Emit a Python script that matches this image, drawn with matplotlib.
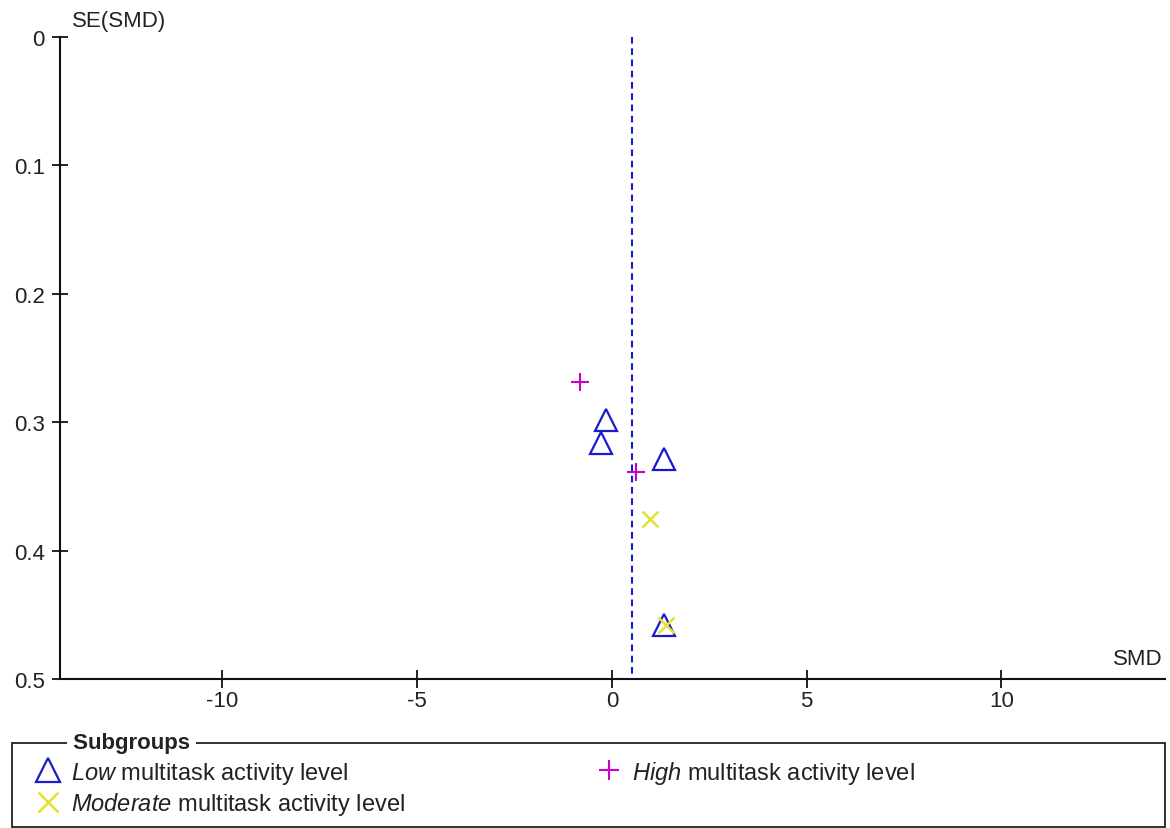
import matplotlib
matplotlib.use("Agg")
import matplotlib.pyplot as plt
from matplotlib.lines import Line2D
from matplotlib.patches import Rectangle

plt.rcParams['font.family'] = ['Liberation Sans', 'DejaVu Sans']
plt.rcParams['mathtext.fontset'] = 'custom'
plt.rcParams['mathtext.it'] = 'Liberation Sans:italic'
plt.rcParams['mathtext.rm'] = 'Liberation Sans'

# ---- data ----
low_smd = [-0.15, -0.27, 1.33, 1.33]
low_se = [0.298, 0.316, 0.329, 0.458]
moderate_smd = [0.98, 1.39]
moderate_se = [0.375, 0.458]
high_smd = [-0.82, 0.62]
high_se = [0.269, 0.339]
pooled_smd = 0.52

x_ticks = [-10, -5, 0, 5, 10]
y_ticks = [0, 0.1, 0.2, 0.3, 0.4, 0.5]
y_tick_labels = ["0", "0.1", "0.2", "0.3", "0.4", "0.5"]

BLUE = "#1a1acc"
MAGENTA = "#cc00cc"
YELLOW = "#e3e32a"
TXT = "#222222"
FS = 16

fig = plt.figure(figsize=(11.7, 8.29), dpi=100)
ax = fig.add_axes([60 / 1170, 1 - 680 / 829, 1105 / 1170, 642 / 829])

ax.plot([pooled_smd, pooled_smd], [0, 0.5], ls=(0, (3.2, 2.2)), color=BLUE, lw=1.5)

ax.plot(low_smd, low_se, ls="none", marker="^", ms=16, mfc="none", mec=BLUE, mew=1.6)
ax.plot(moderate_smd, moderate_se, ls="none", marker="x", ms=12, mec=YELLOW, mew=1.8)
ax.plot(high_smd, high_se, ls="none", marker="+", ms=13, mec=MAGENTA, mew=1.5)

ax.set_xlim(-14.17, 14.2)
ax.set_ylim(0.5, 0)
ax.set_xticks(x_ticks)
ax.set_xticklabels([str(v) for v in x_ticks])
ax.set_yticks(y_ticks)
ax.set_yticklabels(y_tick_labels)

for s in ["top", "right"]:
    ax.spines[s].set_visible(False)
for s in ["left", "bottom"]:
    ax.spines[s].set_linewidth(1.5)
    ax.spines[s].set_color("#111111")

ax.tick_params(direction="inout", width=1.3, color="#111111",
               labelsize=FS, labelcolor=TXT)
ax.tick_params(axis="x", length=12.5, pad=2)
ax.tick_params(axis="y", length=12, pad=5)

fig.text(72 / 1170, 1 - 22 / 829, "SE(SMD)", fontsize=FS, color=TXT,
         ha="left", va="center")
fig.text(1163 / 1170, 1 - 660 / 829, "SMD", fontsize=FS, color=TXT,
         ha="right", va="center")

# ---- subgroup legend box ----
fig.patches.append(Rectangle((12 / 1170, 1 - 828 / 829), 1153 / 1170, 84 / 829,
                             transform=fig.transFigure, fill=False,
                             edgecolor="#222222", lw=1.3))
fig.text(67 / 1170, 1 - 744 / 829, " Subgroups ", fontsize=FS, fontweight="bold",
         color=TXT, ha="left", va="center",
         bbox=dict(facecolor="white", edgecolor="none", pad=0))

handles = [
    Line2D([], [], ls="none", marker="^", ms=17, mfc="none", mec=BLUE, mew=1.6),
    Line2D([], [], ls="none", marker="x", ms=15, mec=YELLOW, mew=1.8),
    Line2D([], [], ls="none", marker="+", ms=15, mec=MAGENTA, mew=1.5),
]
labels = [
    r"$\it{Low}$ multitask activity level",
    r"$\it{Moderate}$ multitask activity level",
    r"$\it{High}$ multitask activity level",
]
leg = fig.legend(handles, labels, loc="upper left",
                 bbox_to_anchor=(18 / 1170, 1 - 743 / 829), ncol=2,
                 frameon=False, fontsize=17, handlelength=1.1, handletextpad=0.45,
                 columnspacing=8.08, labelspacing=0.2, borderpad=0.2)
for t in leg.get_texts():
    t.set_color(TXT)

fig.savefig("out.png", dpi=100)
